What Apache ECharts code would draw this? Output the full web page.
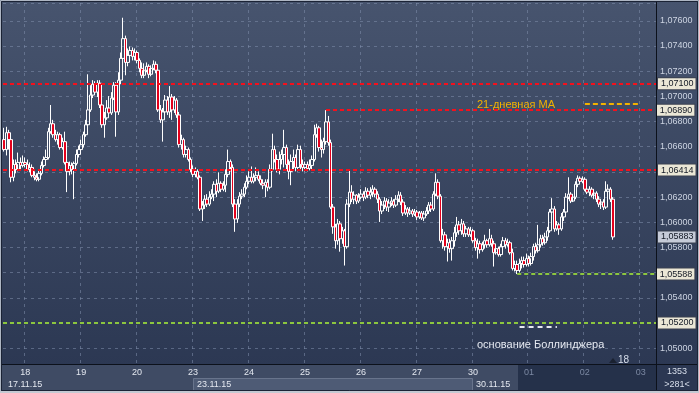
<!DOCTYPE html>
<html><head><meta charset="utf-8">
<script src="https://cdn.jsdelivr.net/npm/echarts@6/dist/echarts.min.js"></script>
<style>html,body{margin:0;padding:0;background:#2b3752;overflow:hidden}#c{width:699px;height:393px}</style>
</head><body><div id="c"></div>
<script>
// ---- categories (hourly bars) ----
const days = ['17','18','19','20','23','24','25','26','27','30','01','02','03'];
const dayFirstHour = [15,0,0,0,0,0,0,0,0,0,0,0,0];
const dayLastHour  = [23,23,23,23,23,23,23,23,23,23,23,23,6];
const weekLabels = ['17.11.15','23.11.15','30.11.15'];

// ---- OHLC values ----
const opens = [
1.06656,1.06577,1.06711,1.06656,1.06357,1.06459,1.06420,1.06475,1.06451,1.06475,
1.06459,1.06420,1.06435,1.06372,1.06357,1.06341,1.06388,1.06451,1.06498,1.06514,
1.06719,1.06782,1.06695,1.06656,1.06695,1.06593,1.06640,1.06475,1.06404,1.06451,
1.06420,1.06467,1.06538,1.06577,1.06616,1.06695,1.06774,1.06892,1.07010,1.07096,
1.07033,1.07104,1.06931,1.06774,1.06829,1.06907,1.06868,1.06986,1.07088,1.06876,
1.07128,1.07301,1.07458,1.07269,1.07325,1.07364,1.07317,1.07348,1.07285,1.07222,
1.07167,1.07207,1.07238,1.07175,1.07222,1.07254,1.07207,1.06892,1.06813,1.06876,
1.06970,1.06876,1.06994,1.06892,1.06970,1.06852,1.06616,1.06656,1.06538,1.06577,
1.06498,1.06420,1.06380,1.06404,1.06357,1.06105,1.06136,1.06183,1.06144,1.06199,
1.06223,1.06301,1.06246,1.06309,1.06262,1.06294,1.06380,1.06482,1.06435,1.06144,
1.06026,1.06144,1.06207,1.06223,1.06278,1.06325,1.06357,1.06325,1.06357,1.06372,
1.06341,1.06309,1.06294,1.06317,1.06278,1.06420,1.06577,1.06498,1.06420,1.06498,
1.06538,1.06593,1.06459,1.06404,1.06482,1.06514,1.06435,1.06577,1.06459,1.06435,
1.06459,1.06427,1.06451,1.06498,1.06695,1.06750,1.06593,1.06577,1.06640,1.06797,
1.06632,1.06120,1.05963,1.05853,1.05987,1.05869,1.05932,1.05806,1.06144,1.06239,
1.06183,1.06215,1.06168,1.06199,1.06223,1.06199,1.06246,1.06215,1.06239,1.06262,
1.06223,1.06183,1.06089,1.06136,1.06168,1.06120,1.06152,1.06168,1.06136,1.06183,
1.06215,1.06160,1.06073,1.06105,1.06073,1.06089,1.06065,1.06081,1.06042,1.06073,
1.06034,1.06065,1.06089,1.06136,1.06105,1.06223,1.06317,1.06207,1.05853,1.05900,
1.05806,1.05837,1.05790,1.05853,1.05916,1.05979,1.05932,1.05987,1.05908,1.05947,
1.05900,1.05932,1.05853,1.05798,1.05829,1.05782,1.05821,1.05853,1.05821,1.05869,
1.05829,1.05758,1.05790,1.05743,1.05806,1.05853,1.05821,1.05837,1.05758,1.05633,
1.05664,1.05617,1.05672,1.05695,1.05664,1.05711,1.05672,1.05727,1.05806,1.05774,
1.05821,1.05869,1.05837,1.05883,1.05932,1.06081,1.06105,1.05947,1.05979,1.05947,
1.06042,1.06081,1.06199,1.06223,1.06168,1.06199,1.06301,1.06349,1.06325,1.06341,
1.06262,1.06239,1.06262,1.06215,1.06231,1.06183,1.06144,1.06160,1.06120,1.06246,
1.06262,1.06183];
const closes = [
1.06577,1.06711,1.06656,1.06357,1.06459,1.06420,1.06475,1.06451,1.06475,1.06459,
1.06420,1.06435,1.06372,1.06357,1.06341,1.06388,1.06451,1.06498,1.06514,1.06719,
1.06782,1.06695,1.06656,1.06695,1.06593,1.06640,1.06475,1.06404,1.06451,1.06420,
1.06467,1.06538,1.06577,1.06616,1.06695,1.06774,1.06892,1.07010,1.07096,1.07033,
1.07104,1.06931,1.06774,1.06829,1.06907,1.06868,1.06986,1.07088,1.06876,1.07128,
1.07301,1.07458,1.07269,1.07325,1.07364,1.07317,1.07348,1.07285,1.07222,1.07167,
1.07207,1.07238,1.07175,1.07222,1.07254,1.07207,1.06892,1.06813,1.06876,1.06970,
1.06876,1.06994,1.06892,1.06970,1.06852,1.06616,1.06656,1.06538,1.06577,1.06498,
1.06420,1.06380,1.06404,1.06357,1.06105,1.06136,1.06183,1.06144,1.06199,1.06223,
1.06301,1.06246,1.06309,1.06262,1.06294,1.06380,1.06482,1.06435,1.06144,1.06026,
1.06144,1.06207,1.06223,1.06278,1.06325,1.06357,1.06325,1.06357,1.06372,1.06341,
1.06309,1.06294,1.06317,1.06278,1.06420,1.06577,1.06498,1.06420,1.06498,1.06538,
1.06593,1.06459,1.06404,1.06482,1.06514,1.06435,1.06577,1.06459,1.06435,1.06459,
1.06427,1.06451,1.06498,1.06695,1.06750,1.06593,1.06577,1.06640,1.06797,1.06632,
1.06120,1.05963,1.05853,1.05987,1.05869,1.05932,1.05806,1.06144,1.06239,1.06183,
1.06215,1.06168,1.06199,1.06223,1.06199,1.06246,1.06215,1.06239,1.06262,1.06223,
1.06183,1.06089,1.06136,1.06168,1.06120,1.06152,1.06168,1.06136,1.06183,1.06215,
1.06160,1.06073,1.06105,1.06073,1.06089,1.06065,1.06081,1.06042,1.06073,1.06034,
1.06065,1.06089,1.06136,1.06105,1.06223,1.06317,1.06207,1.05853,1.05900,1.05806,
1.05837,1.05790,1.05853,1.05916,1.05979,1.05932,1.05987,1.05908,1.05947,1.05900,
1.05932,1.05853,1.05798,1.05829,1.05782,1.05821,1.05853,1.05821,1.05869,1.05829,
1.05758,1.05790,1.05743,1.05806,1.05853,1.05821,1.05837,1.05758,1.05633,1.05664,
1.05617,1.05672,1.05695,1.05664,1.05711,1.05672,1.05727,1.05806,1.05774,1.05821,
1.05869,1.05837,1.05883,1.05932,1.06081,1.06105,1.05947,1.05979,1.05947,1.06042,
1.06081,1.06199,1.06223,1.06168,1.06199,1.06301,1.06349,1.06325,1.06341,1.06262,
1.06239,1.06262,1.06215,1.06231,1.06183,1.06144,1.06160,1.06120,1.06246,1.06262,
1.06183,1.05883];
const highs = [
1.06750,1.06758,1.06734,1.06671,1.06498,1.06498,1.06553,1.06514,1.06530,1.06514,
1.06498,1.06475,1.06459,1.06404,1.06388,1.06420,1.06482,1.06522,1.06577,1.06750,
1.06931,1.06813,1.06734,1.06719,1.06711,1.06671,1.06719,1.06498,1.06482,1.06475,
1.06482,1.06577,1.06608,1.06656,1.06719,1.06813,1.07175,1.07088,1.07128,1.07120,
1.07128,1.07128,1.06970,1.06876,1.06970,1.07002,1.07033,1.07112,1.07112,1.07191,
1.07348,1.07624,1.07482,1.07380,1.07395,1.07388,1.07380,1.07364,1.07301,1.07269,
1.07262,1.07269,1.07254,1.07246,1.07285,1.07277,1.07246,1.06931,1.06907,1.07010,
1.07002,1.07081,1.07018,1.07002,1.06986,1.06876,1.06695,1.06671,1.06608,1.06593,
1.06514,1.06451,1.06435,1.06420,1.06372,1.06168,1.06215,1.06223,1.06246,1.06262,
1.06325,1.06341,1.06396,1.06325,1.06325,1.06420,1.06577,1.06498,1.06459,1.06183,
1.06183,1.06239,1.06262,1.06309,1.06372,1.06404,1.06443,1.06388,1.06435,1.06404,
1.06372,1.06341,1.06341,1.06341,1.06459,1.06703,1.06608,1.06538,1.06561,1.06577,
1.06734,1.06616,1.06498,1.06538,1.06577,1.06538,1.06616,1.06608,1.06498,1.06482,
1.06482,1.06498,1.06530,1.06774,1.06782,1.06766,1.06656,1.06671,1.06890,1.06844,
1.06656,1.06144,1.05987,1.06026,1.06010,1.05963,1.05947,1.06183,1.06420,1.06294,
1.06246,1.06223,1.06231,1.06262,1.06246,1.06278,1.06270,1.06278,1.06294,1.06278,
1.06246,1.06199,1.06168,1.06199,1.06191,1.06183,1.06199,1.06183,1.06215,1.06246,
1.06239,1.06183,1.06136,1.06120,1.06120,1.06105,1.06105,1.06097,1.06089,1.06089,
1.06089,1.06120,1.06160,1.06160,1.06246,1.06388,1.06341,1.06223,1.05947,1.05924,
1.05869,1.05869,1.05883,1.05963,1.06042,1.06010,1.06026,1.06010,1.05971,1.05963,
1.05963,1.05947,1.05876,1.05869,1.05853,1.05845,1.05900,1.05869,1.05947,1.05900,
1.05853,1.05821,1.05806,1.05829,1.05883,1.05876,1.05869,1.05853,1.05790,1.05695,
1.05695,1.05711,1.05727,1.05727,1.05751,1.05735,1.05758,1.05829,1.05837,1.05979,
1.05900,1.05900,1.05916,1.05963,1.06105,1.06191,1.06128,1.06010,1.05995,1.06073,
1.06105,1.06231,1.06357,1.06239,1.06223,1.06325,1.06372,1.06364,1.06364,1.06357,
1.06294,1.06286,1.06278,1.06262,1.06246,1.06207,1.06183,1.06183,1.06325,1.06301,
1.06278,1.06199];
const lows = [
1.06561,1.06530,1.06577,1.06317,1.06325,1.06388,1.06404,1.06420,1.06435,1.06435,
1.06404,1.06396,1.06357,1.06333,1.06325,1.06325,1.06372,1.06435,1.06475,1.06498,
1.06703,1.06671,1.06640,1.06616,1.06577,1.06577,1.06459,1.06239,1.06372,1.06380,
1.06183,1.06451,1.06514,1.06561,1.06593,1.06679,1.06750,1.06876,1.06986,1.07010,
1.06994,1.06907,1.06750,1.06671,1.06813,1.06844,1.06852,1.06970,1.06679,1.06852,
1.07096,1.07269,1.07167,1.07238,1.07301,1.07285,1.07285,1.07262,1.07191,1.07144,
1.07144,1.07191,1.07144,1.07159,1.07207,1.07183,1.06876,1.06789,1.06640,1.06852,
1.06852,1.06829,1.06813,1.06868,1.06829,1.06593,1.06577,1.06514,1.06514,1.06482,
1.06396,1.06357,1.06357,1.06341,1.06089,1.06010,1.06105,1.06120,1.06128,1.06183,
1.06168,1.06199,1.06231,1.06239,1.06246,1.06239,1.06357,1.06404,1.06120,1.05924,
1.05995,1.06120,1.06183,1.06199,1.06262,1.06301,1.06309,1.06309,1.06325,1.06325,
1.06294,1.06262,1.06199,1.06246,1.06262,1.06404,1.06475,1.06396,1.06380,1.06459,
1.06435,1.06420,1.06341,1.06294,1.06420,1.06404,1.06404,1.06420,1.06404,1.06404,
1.06404,1.06412,1.06420,1.06482,1.06671,1.06561,1.06514,1.06545,1.06616,1.06608,
1.06105,1.05908,1.05790,1.05821,1.05766,1.05829,1.05656,1.05790,1.06120,1.06160,
1.06144,1.06144,1.06152,1.06183,1.06168,1.06183,1.06191,1.06183,1.06199,1.06199,
1.06152,1.06002,1.06065,1.06105,1.06089,1.06081,1.06128,1.06113,1.06120,1.06160,
1.06136,1.06050,1.06057,1.06042,1.06057,1.06042,1.06050,1.06018,1.06026,1.06018,
1.06010,1.06050,1.06065,1.06081,1.06089,1.06207,1.06183,1.05837,1.05790,1.05774,
1.05688,1.05758,1.05695,1.05806,1.05883,1.05900,1.05900,1.05883,1.05883,1.05883,
1.05883,1.05837,1.05774,1.05711,1.05751,1.05766,1.05790,1.05798,1.05806,1.05806,
1.05648,1.05743,1.05727,1.05727,1.05774,1.05790,1.05806,1.05743,1.05617,1.05609,
1.05588,1.05601,1.05633,1.05640,1.05648,1.05648,1.05656,1.05695,1.05751,1.05758,
1.05798,1.05813,1.05821,1.05853,1.05916,1.06057,1.05924,1.05932,1.05900,1.05932,
1.06010,1.06057,1.06183,1.06152,1.06160,1.06183,1.06278,1.06309,1.06309,1.06246,
1.06223,1.06207,1.06199,1.06183,1.06160,1.06120,1.06105,1.06097,1.06105,1.06215,
1.06160,1.05861];

// ---- levels / annotations ----
const redLevels = [1.07100, 1.06414];
const maLevel = 1.06890, maStartBar = 138;
const bollLower = 1.05200;
const bollLevel = 1.05588, bollStartBar = 220;
const lastPrice = 1.05883;
const maSampleLevel = 1.06940, maSampleBars = [249, 273];
const bollSampleLevel = 1.05170, bollSampleBars = [221, 237];
const hiddenTickLabels = [1.064, 1.056, 1.052];
const yMin = 1.04874, yMax = 1.07741;
const texts = { ma: '21-дневная МА', boll: 'основание Боллинджера', shift: '18', bars: '1353', visible: '>281<' };

// ---- build ----
const categories = [];
days.forEach((d, k) => { for (let h = dayFirstHour[k]; h <= dayLastHour[k]; h++) categories.push(d + ' ' + String(h).padStart(2, '0') + ':00'); });
const candles = opens.map((o, i) => [o, closes[i], lows[i], highs[i]]);
const FF = '"Liberation Sans", Arial, sans-serif';
const fmt = v => v.toFixed(5).replace('.', ',');
const isDayStart = (i, v) => String(v).endsWith(' 00:00');
const gridC = 'rgba(128,142,172,0.55)';

function tag(v, bg) {
  return { show: true, position: 'end', distance: 2, formatter: () => fmt(v), color: '#121824',
    backgroundColor: bg, borderColor: '#3b4150', borderWidth: 1, padding: [1, 2, 0, 3],
    fontSize: 9, fontFamily: FF, lineHeight: 10 };
}
const redStyle = { color: '#f5101c', width: 2, type: [4, 3] };
const greenStyle = { color: '#8cc63f', width: 2, type: [4, 3] };

const chart = echarts.init(document.getElementById('c'), null, { renderer: 'canvas' });
chart.setOption({
  animation: false,
  backgroundColor: new echarts.graphic.LinearGradient(0, 0, 0, 1, [
    { offset: 0, color: '#47546e' }, { offset: 1, color: '#2a3651' }]),
  textStyle: { fontFamily: FF },
  grid: { left: 3, right: 43, top: 3, bottom: 29, containLabel: false },
  xAxis: {
    type: 'category', data: categories, boundaryGap: true,
    axisLine: { show: true, lineStyle: { color: '#0c111b', width: 1 } },
    axisTick: { show: false },
    axisLabel: { interval: isDayStart, formatter: v => v.slice(0, 2), fontSize: 9, margin: 4, fontFamily: FF,
      color: v => String(v).startsWith('0') ? '#7c89a3' : '#e4e8f0' },
    splitLine: { show: true, interval: isDayStart, lineStyle: { color: gridC, type: [3, 4], width: 1 } }
  },
  yAxis: {
    type: 'value', position: 'right', min: yMin, max: yMax, splitNumber: 14, scale: true,
    axisLine: { show: true, lineStyle: { color: '#0c111b', width: 1 } },
    axisTick: { show: false },
    splitLine: { show: true, lineStyle: { color: gridC, type: [3, 4], width: 1 } },
    axisLabel: { margin: 4, fontSize: 9, color: '#cdd4e2', fontFamily: FF, showMinLabel: false, showMaxLabel: false,
      formatter: v => hiddenTickLabels.some(h => Math.abs(h - v) < 1e-7) ? '' : fmt(v) }
  },
  series: [{
    type: 'candlestick', data: candles, barWidth: 3, clip: true,
    itemStyle: { color: 'rgba(0,0,0,0)', color0: '#e4001c', borderColor: '#ffffff', borderColor0: '#ffffff', borderWidth: 1 },
    markLine: {
      symbol: ['none', 'none'], silent: true, animation: false, precision: 5,
      data: [
        { yAxis: redLevels[0], lineStyle: redStyle, label: tag(redLevels[0], '#ebe7d6') },
        { yAxis: redLevels[1], lineStyle: redStyle, label: tag(redLevels[1], '#ebe7d6') },
        [{ coord: [categories[maStartBar], maLevel], lineStyle: redStyle, label: tag(maLevel, '#ebe7d6') },
         { coord: [categories[categories.length - 1], maLevel] }],
        [{ coord: [categories[bollStartBar], bollLevel], lineStyle: greenStyle, label: tag(bollLevel, '#ebe7d6') },
         { coord: [categories[categories.length - 1], bollLevel] }],
        { yAxis: bollLower, lineStyle: greenStyle, label: tag(bollLower, '#ebe7d6') },
        { yAxis: lastPrice, lineStyle: { color: 'rgba(0,0,0,0)', width: 1 }, label: tag(lastPrice, '#c6cbd8') },
        [{ coord: [categories[maSampleBars[0]], maSampleLevel], lineStyle: { color: '#f2b200', width: 2, type: [5, 3] }, label: { show: false } },
         { coord: [categories[maSampleBars[1]], maSampleLevel] }],
        [{ coord: [categories[bollSampleBars[0]], bollSampleLevel], lineStyle: { color: '#e8ebf2', width: 2, type: [5, 4] }, label: { show: false } },
         { coord: [categories[bollSampleBars[1]], bollSampleLevel] }]
      ]
    }
  }],
  graphic: [
    { type: 'rect', z: -1, silent: true, shape: { x: 2, y: 365, width: 654, height: 26 }, style: { fill: '#3f4b64' } },
    { type: 'rect', z: -1, silent: true, shape: { x: 193.5, y: 378.5, width: 279, height: 13 }, style: { fill: '#4e5b75', stroke: '#68748c', lineWidth: 1 } },
    { type: 'rect', z: -1, silent: true, shape: { x: 518, y: 365, width: 138, height: 26 }, style: { fill: '#25314a' } },
    { type: 'rect', z: -1, silent: true, shape: { x: 657, y: 365, width: 42, height: 26 }, style: { fill: '#2b3752' } },
    { type: 'text', z: 5, silent: true, x: 8, y: 385, style: { text: weekLabels[0], fill: '#e4e8f0', font: '9px ' + FF, verticalAlign: 'middle' } },
    { type: 'text', z: 5, silent: true, x: 197, y: 385, style: { text: weekLabels[1], fill: '#e4e8f0', font: '9px ' + FF, verticalAlign: 'middle' } },
    { type: 'text', z: 5, silent: true, x: 476, y: 385, style: { text: weekLabels[2], fill: '#e4e8f0', font: '9px ' + FF, verticalAlign: 'middle' } },
    { type: 'text', z: 5, silent: true, x: 677, y: 372, style: { text: texts.bars, fill: '#d8dfec', font: '9px ' + FF, align: 'center', verticalAlign: 'middle' } },
    { type: 'text', z: 5, silent: true, x: 677, y: 385, style: { text: texts.visible, fill: '#d8dfec', font: '9px ' + FF, align: 'center', verticalAlign: 'middle' } },
    { type: 'text', z: 5, silent: true, x: 477, y: 105, style: { text: texts.ma, fill: '#f2b200', font: '11px ' + FF, verticalAlign: 'middle' } },
    { type: 'text', z: 5, silent: true, x: 477, y: 345, style: { text: texts.boll, fill: '#e6eaf2', font: '11px ' + FF, verticalAlign: 'middle' } },
    { type: 'polygon', z: 5, silent: true, shape: { points: [[609, 363], [617, 363], [613, 358]] }, style: { fill: '#1a2130' } },
    { type: 'text', z: 5, silent: true, x: 618, y: 360, style: { text: texts.shift, fill: '#d8dfec', font: '10px ' + FF, verticalAlign: 'middle' } },
    { type: 'line', z: 6, silent: true, shape: { x1: 656.5, y1: 2, x2: 656.5, y2: 391 }, style: { stroke: '#0c111b', lineWidth: 1 } },
    { type: 'line', z: 6, silent: true, shape: { x1: 2, y1: 364.5, x2: 699, y2: 364.5 }, style: { stroke: '#0c111b', lineWidth: 1 } },
    { type: 'rect', z: 7, silent: true, shape: { x: 0.5, y: 0.5, width: 698, height: 392 }, style: { fill: null, stroke: '#aeb6c3', lineWidth: 1 } },
    { type: 'rect', z: 7, silent: true, shape: { x: 1.5, y: 1.5, width: 696, height: 389 }, style: { fill: null, stroke: '#1b2335', lineWidth: 1 } },
    { type: 'line', z: 7, silent: true, shape: { x1: 0, y1: 392, x2: 699, y2: 392 }, style: { stroke: '#c4c9d2', lineWidth: 2 } }
  ]
});
</script>
</body></html>
